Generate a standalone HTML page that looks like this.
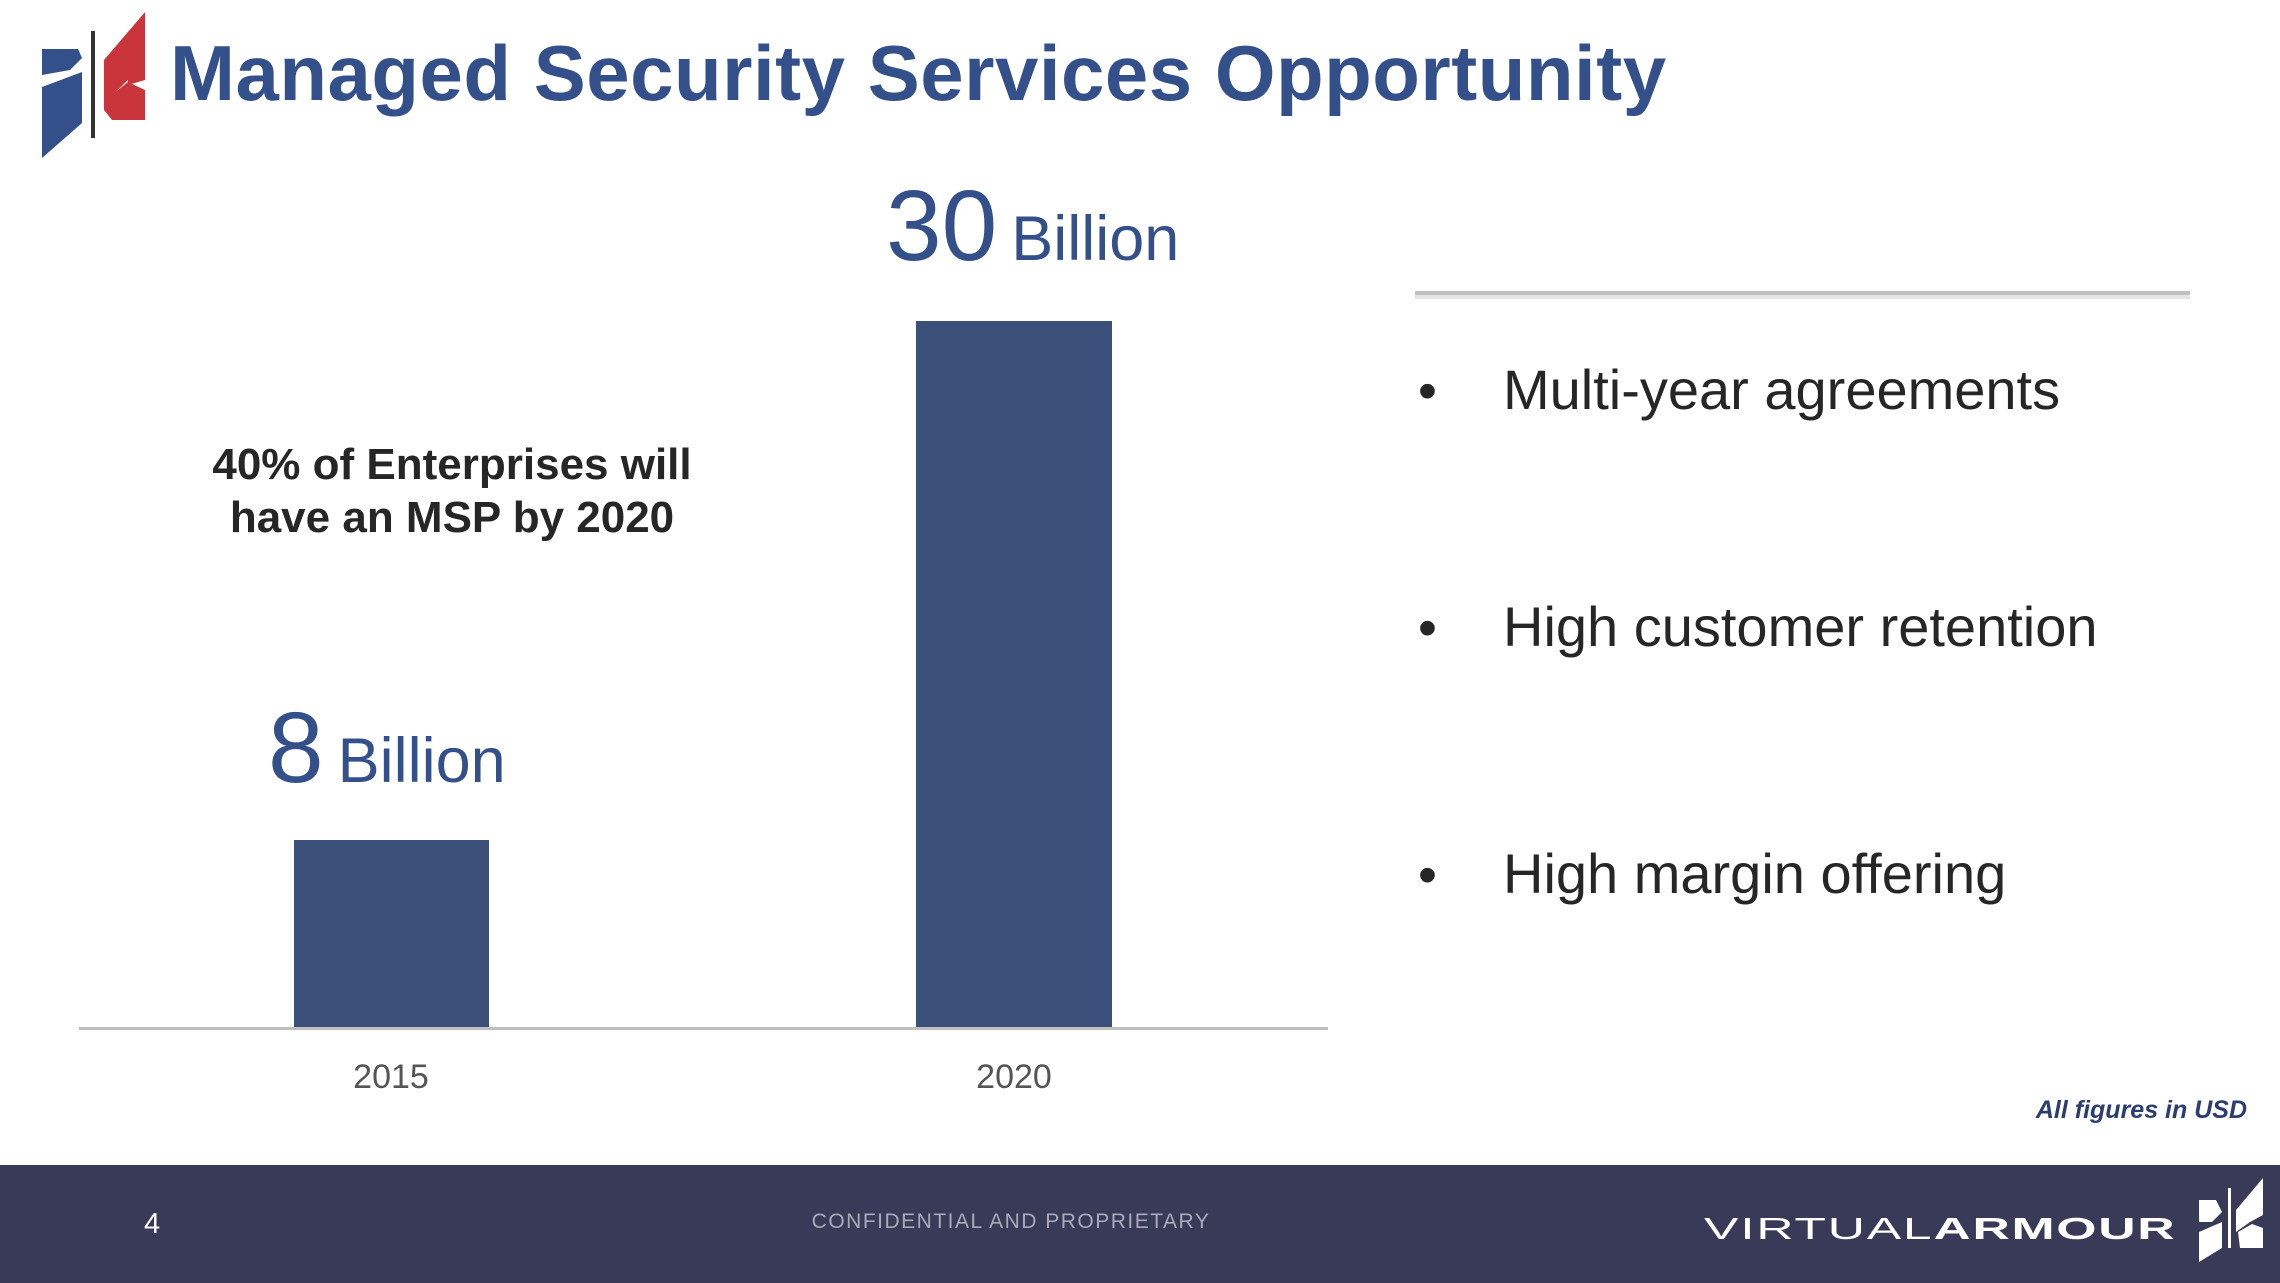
<!DOCTYPE html>
<html><head><meta charset="utf-8"><style>
body{margin:0;width:2280px;height:1283px;position:relative;background:#fff;font-family:"Liberation Sans",Arial,sans-serif;overflow:hidden}
.a{position:absolute;white-space:nowrap}
</style></head><body>
<svg class="a" style="left:0;top:0" width="2280" height="1283">
 <polygon points="42,49 78,49 82,58 70,70 42,75" fill="#34508a"/>
 <polygon points="42,87 82,72 82,123 42,158" fill="#34508a"/>
 <rect x="91" y="31" width="4" height="107" fill="#333"/>
 <polygon points="104,60 145,12 145,80 128,85 128,80 104,103" fill="#c9353b"/>
 <polygon points="104,101 128,82 145,90 145,120 112,120 104,110" fill="#c9353b"/>
 <rect x="294" y="840" width="195" height="188" fill="#3b5078"/>
 <rect x="916" y="321" width="196" height="707" fill="#3b5078"/>
 <rect x="79" y="1027" width="1249" height="3" fill="#bfbfbf"/>
 <rect x="1415" y="293" width="775" height="6" fill="#e4e4e4"/>
 <rect x="1415" y="291" width="775" height="4" fill="#c0c0c0"/>
 <rect x="0" y="1165" width="2280" height="118" fill="#393a58"/>
 <polygon points="2199,1200 2216,1200 2222,1212 2212,1222 2199,1222" fill="#fff"/>
 <polygon points="2199,1232 2222,1222 2222,1248 2199,1262" fill="#fff"/>
 <rect x="2228" y="1188" width="3" height="60" fill="#fff"/>
 <polygon points="2236,1210 2263,1178 2263,1215 2250,1222 2236,1232" fill="#fff"/>
 <polygon points="2238,1232 2252,1224 2263,1228 2263,1248 2240,1248" fill="#fff"/>
</svg>
<div class="a" style="left:170px;top:28px;font-size:78px;font-weight:bold;color:#34508a;letter-spacing:0.5px">Managed Security Services Opportunity</div>
<div class="a" style="left:886px;top:176px;color:#34508a;line-height:1"><span style="font-size:100px">30</span><span style="font-size:63px;margin-left:14px">Billion</span></div>
<div class="a" style="left:268px;top:698px;color:#34508a;line-height:1"><span style="font-size:100px">8</span><span style="font-size:63px;margin-left:14px">Billion</span></div>
<div class="a" style="left:452px;top:438px;transform:translateX(-50%);text-align:center;font-size:44px;font-weight:bold;color:#262626;line-height:53px">40% of Enterprises will<br>have an MSP by 2020</div>
<div class="a" style="left:391px;top:1058px;transform:translateX(-50%);font-size:34px;color:#555">2015</div>
<div class="a" style="left:1014px;top:1058px;transform:translateX(-50%);font-size:34px;color:#555">2020</div>
<div class="a" style="left:1418px;top:360px;font-size:54px;color:#262626">•</div>
<div class="a" style="left:1503px;top:357px;font-size:56px;color:#262626">Multi-year agreements</div>
<div class="a" style="left:1418px;top:597px;font-size:54px;color:#262626">•</div>
<div class="a" style="left:1503px;top:594px;font-size:56px;color:#262626">High customer retention</div>
<div class="a" style="left:1418px;top:844px;font-size:54px;color:#262626">•</div>
<div class="a" style="left:1503px;top:841px;font-size:56px;color:#262626">High margin offering</div>
<div class="a" style="right:33px;top:1096px;font-size:25px;font-weight:bold;font-style:italic;color:#2c3e70">All figures in USD</div>
<div class="a" style="left:144px;top:1208px;font-size:29px;color:#fff">4</div>
<div class="a" style="left:1011px;top:1210px;transform:translateX(-50%);font-size:21px;color:#a9a9b8;letter-spacing:1.5px">CONFIDENTIAL AND PROPRIETARY</div>
<div class="a" style="left:1704px;top:1213px;font-size:31px;color:#fff;letter-spacing:1px;line-height:1;transform:scaleX(1.67);transform-origin:left"><span style="font-weight:normal">VIRTUAL</span><span style="font-weight:bold">ARMOUR</span></div>
</body></html>
